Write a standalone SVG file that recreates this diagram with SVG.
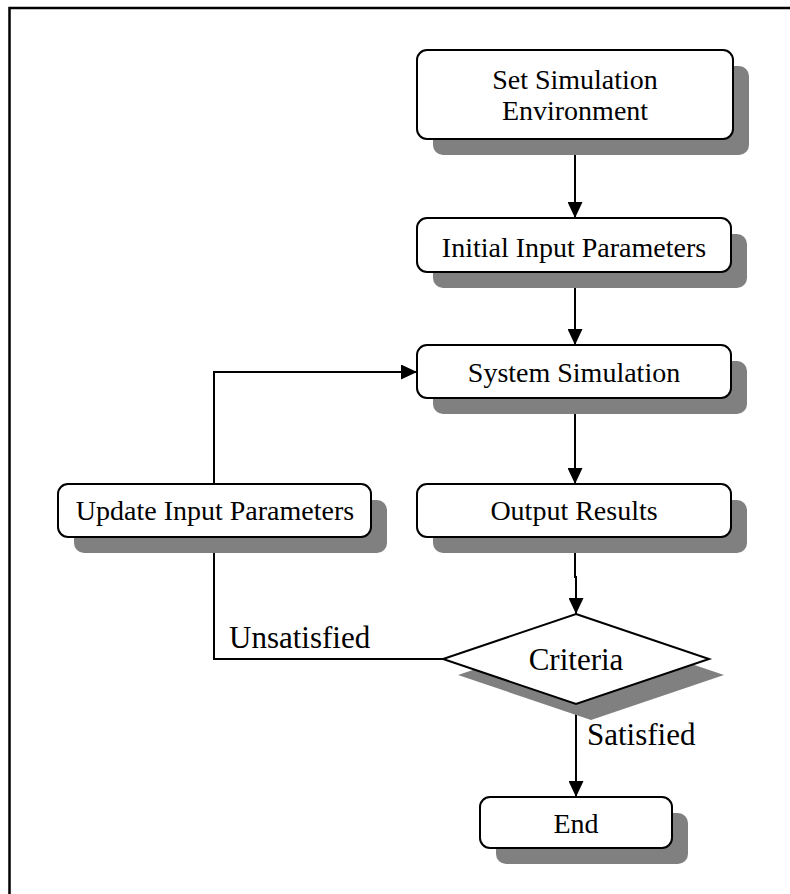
<svg xmlns="http://www.w3.org/2000/svg" width="790" height="894" viewBox="0 0 790 894">
<style>
.box{fill:#fff;stroke:#000;stroke-width:2}
.sh{fill:#808080}
.t{font-family:"Liberation Serif","Times New Roman",serif;font-size:28px;fill:#000;text-anchor:middle}
.lbl{font-family:"Liberation Serif","Times New Roman",serif;font-size:31px;fill:#000}
.ln{fill:none;stroke:#000;stroke-width:2}
</style>
<defs>
<marker id="ah" viewBox="0 0 16 15" refX="16" refY="7.5" markerWidth="16" markerHeight="15" markerUnits="userSpaceOnUse" orient="auto">
<path d="M0,0 L16,7.5 L0,15 Z" fill="#000"/>
</marker>
</defs>
<rect x="0" y="0" width="790" height="894" fill="#fff"/>
<rect x="9.5" y="8" width="800" height="900" fill="none" stroke="#000" stroke-width="2.5"/>

<g id="connectors">
<line class="ln" x1="575" y1="139" x2="575" y2="218" marker-end="url(#ah)"/>
<line class="ln" x1="575" y1="273" x2="575" y2="345" marker-end="url(#ah)"/>
<line class="ln" x1="575" y1="398" x2="575" y2="484" marker-end="url(#ah)"/>
<polyline class="ln" points="575,537 575,577 576,577 576,614" marker-end="url(#ah)"/>
<line class="ln" x1="576" y1="704" x2="576" y2="797" marker-end="url(#ah)"/>
<polyline class="ln" points="443,659 214,659 214,537" marker-end="url(#ah)"/>
<polyline class="ln" points="214,484 214,372 417,372" marker-end="url(#ah)"/>
<text class="lbl" x="229" y="648">Unsatisfied</text>
<text class="lbl" x="587" y="745">Satisfied</text>
</g>

<g id="set-env">
<rect class="sh" x="433" y="66" width="316" height="89" rx="10"/>
<rect class="box" x="417" y="50" width="316" height="89" rx="10"/>
<text class="t" x="575" y="89">Set Simulation</text>
<text class="t" x="575" y="120">Environment</text>
</g>

<g id="initial-input">
<rect class="sh" x="433" y="234" width="314" height="54" rx="10"/>
<rect class="box" x="417" y="218" width="314" height="54" rx="10"/>
<text class="t" x="574" y="257">Initial Input Parameters</text>
</g>

<g id="system-sim">
<rect class="sh" x="433" y="361" width="314" height="53" rx="10"/>
<rect class="box" x="417" y="345" width="314" height="53" rx="10"/>
<text class="t" x="574" y="382">System Simulation</text>
</g>

<g id="update-input">
<rect class="sh" x="74" y="500" width="313" height="53" rx="10"/>
<rect class="box" x="58" y="484" width="313" height="53" rx="10"/>
<text class="t" x="215" y="520">Update Input Parameters</text>
</g>

<g id="output-results">
<rect class="sh" x="433" y="500" width="314" height="53" rx="10"/>
<rect class="box" x="417" y="484" width="314" height="53" rx="10"/>
<text class="t" x="574" y="520">Output Results</text>
</g>

<g id="criteria">
<polygon class="sh" points="591,630 724,675 591,720 458,675"/>
<polygon class="box" points="576,614 709,659 576,704 443,659"/>
<text class="lbl" x="576" y="670" text-anchor="middle">Criteria</text>
</g>

<g id="end">
<rect class="sh" x="496" y="813" width="192" height="51" rx="10"/>
<rect class="box" x="480" y="797" width="192" height="51" rx="10"/>
<text class="t" x="576" y="833">End</text>
</g>
</svg>
